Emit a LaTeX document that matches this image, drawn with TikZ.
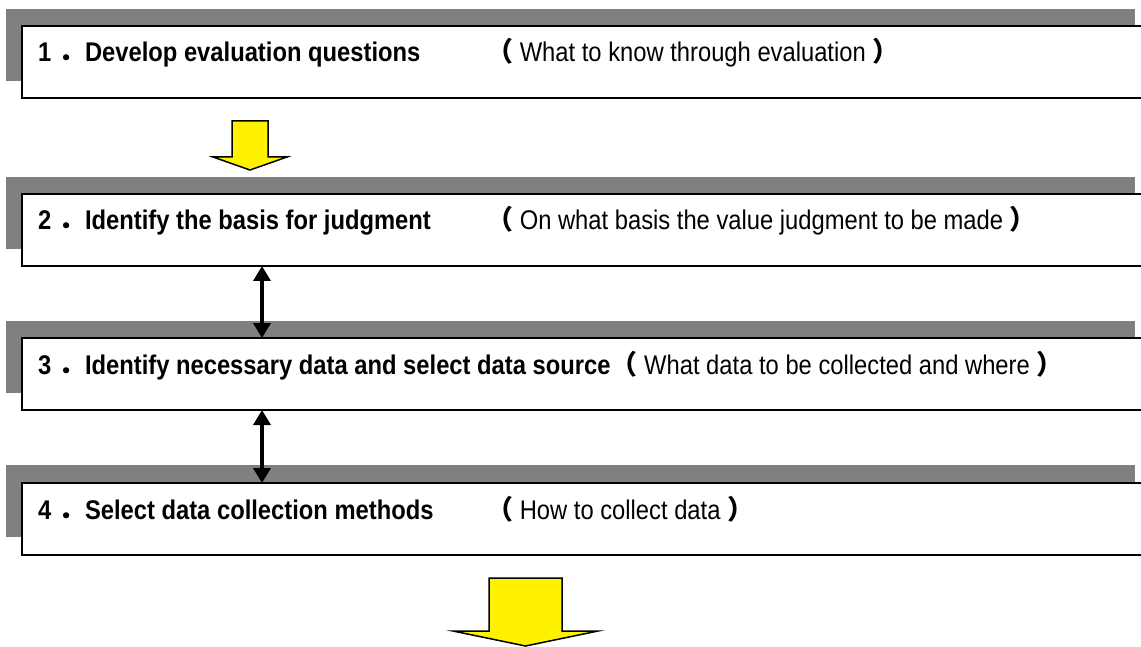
\documentclass[tikz,border=0pt]{standalone}
\usepackage{fontspec}
\setmainfont{Liberation Sans}[FakeStretch=0.88]
\newfontfamily\cjk{Noto Sans CJK SC}
\usetikzlibrary{arrows.meta}
\newcommand{\lpar}{{\cjk\bfseries （}}
\newcommand{\rpar}{{\cjk\bfseries ）}}
\newcommand{\fdot}{{\cjk\bfseries ．}}
\tikzset{
  shadowbox/.style={fill={rgb,255:red,128;green,128;blue,128}, draw=none},
  stepbox/.style={draw=black, line width=2pt, fill=white, anchor=north west,
    minimum width=1129pt, minimum height=72pt, inner sep=0pt},
  boldlabel/.style={anchor=base west, inner sep=0pt, font=\fontsize{27}{32}\selectfont\bfseries},
  normlabel/.style={anchor=base west, inner sep=0pt, font=\fontsize{27}{32}\selectfont},
  twoway/.style={line width=3.5pt, {Triangle[width=17pt,length=15pt]}-{Triangle[width=17pt,length=15pt]}, shorten <=-1pt, shorten >=-1pt},
  bigarrow/.style={fill=yellow, draw=black, line width=1.5pt, line join=miter}
}
\begin{document}
\begin{tikzpicture}[x=1pt,y=-1pt]
\useasboundingbox (0,0) rectangle (1141,647);
\clip (0,0) rectangle (1141,647);
% box 1
\fill[shadowbox] (6,9) rectangle (1135,81);
\node[stepbox] (b1) at (21,25) {};
\node[boldlabel] (t1) at (38,62) {1 \fdot Develop evaluation questions};
\node[normlabel] (u1) at (486,62) {\lpar\ What to know through evaluation \rpar};
% box 2
\fill[shadowbox] (6,177) rectangle (1135,249);
\node[stepbox] (b2) at (21,193) {};
\node[boldlabel] (t2) at (38,230) {2 \fdot Identify the basis for judgment};
\node[normlabel] (u2) at (486,230) {\lpar\ On what basis the value judgment to be made \rpar};
% box 3
\fill[shadowbox] (6,321) rectangle (1135,393);
\node[stepbox] (b3) at (21,337) {};
\node[boldlabel] (t3) at (38,374) {3 \fdot Identify necessary data and select data source\lpar\mdseries\ What data to be collected and where \rpar};
% box 4
\fill[shadowbox] (6,465) rectangle (1135,537);
\node[stepbox] (b4) at (21,482) {};
\node[boldlabel] (t4) at (38,519) {4 \fdot Select data collection methods};
\node[normlabel] (u4) at (486,519) {\lpar\ How to collect data \rpar};
% double arrows
\coordinate (a1) at (262,0);
\draw[twoway] (b2.south -| a1) -- (b3.north -| a1);
\draw[twoway] (b3.south -| a1) -- (b4.north -| a1);
% yellow arrows
\draw[bigarrow] (232,121) -- (268,121) -- (268,157) -- (287,157) -- (250,170) -- (213,157) -- (232,157) -- cycle;
\draw[bigarrow] (489,578) -- (562,578) -- (562,631) -- (598,631) -- (525.5,646) -- (453,631) -- (489,631) -- cycle;
\end{tikzpicture}
\end{document}
